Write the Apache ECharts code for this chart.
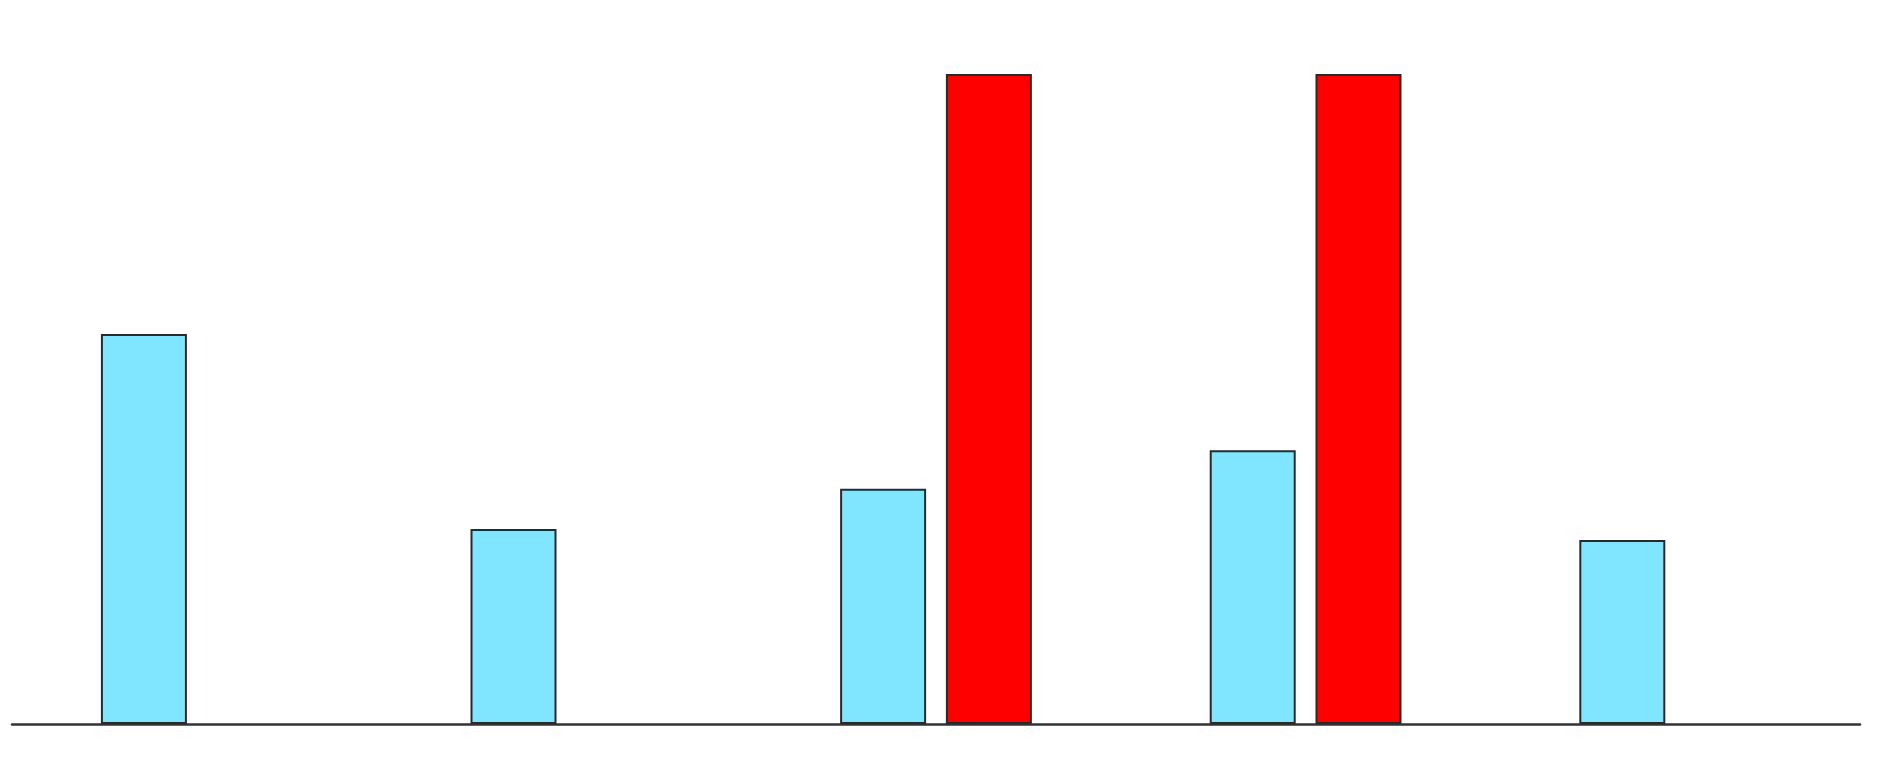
<!DOCTYPE html>
<html>
<head>
<meta charset="utf-8">
<script src="https://cdn.jsdelivr.net/npm/echarts@6/dist/echarts.min.js"></script>
<style>html,body{margin:0;padding:0;background:#fff;}#c{width:1888px;height:776px;}</style>
</head>
<body>
<div id="c"></div>
<script>
const categories = ['A', 'B', 'C', 'D', 'E'];
const seriesCyan = [60, 30, 36.2, 42.1, 28.3];
const seriesRed = [null, null, 100, 100, null];

const chart = echarts.init(document.getElementById('c'), null, {renderer: 'canvas'});
chart.setOption({
  animation: false,
  backgroundColor: '#ffffff',
  grid: {left: 12, right: 28, top: 74, bottom: 52, containLabel: false},
  xAxis: {
    type: 'category',
    data: categories,
    axisLine: {show: true, lineStyle: {color: '#333333', width: 2.5}},
    axisTick: {show: false},
    axisLabel: {show: false},
    splitLine: {show: false}
  },
  yAxis: {
    type: 'value',
    min: 0,
    max: 100,
    show: false,
    splitLine: {show: false}
  },
  series: [
    {
      type: 'bar',
      data: seriesCyan,
      barWidth: 86,
      barGap: '23%',
      itemStyle: {color: '#80e5ff', borderColor: '#2a2a2a', borderWidth: 2}
    },
    {
      type: 'bar',
      data: seriesRed,
      barWidth: 86,
      itemStyle: {color: '#ff0000', borderColor: '#2a2a2a', borderWidth: 2}
    }
  ]
});
</script>
</body>
</html>
